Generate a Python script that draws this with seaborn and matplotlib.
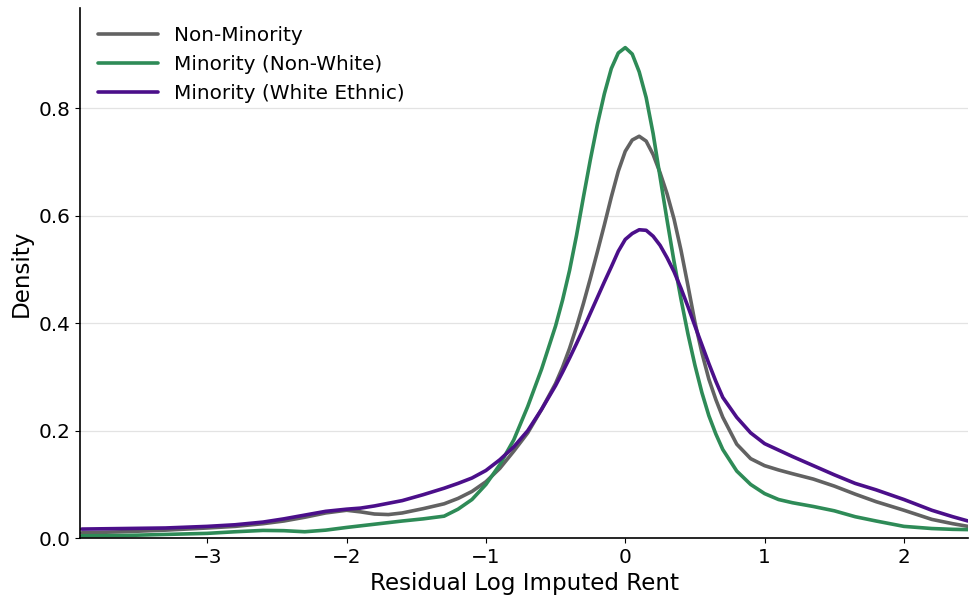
import numpy as np
import pandas as pd
import matplotlib
matplotlib.use("Agg")
import matplotlib.pyplot as plt
import seaborn as sns

# Residual grid (x) and density readings per group
x_vals = [-3.9, -3.6, -3.3, -3.0, -2.8, -2.6, -2.45, -2.3, -2.15, -2.0, -1.9,
          -1.8, -1.7, -1.6, -1.45, -1.3, -1.2, -1.1, -1.0, -0.9, -0.8, -0.7,
          -0.6, -0.5, -0.45, -0.4, -0.35, -0.3, -0.25, -0.2, -0.15, -0.1,
          -0.05, 0.0, 0.05, 0.1, 0.15, 0.2, 0.25, 0.3, 0.35, 0.4, 0.45, 0.5,
          0.55, 0.6, 0.65, 0.7, 0.8, 0.9, 1.0, 1.1, 1.2, 1.35, 1.5, 1.65, 1.8,
          2.0, 2.2, 2.35, 2.46]

non_minority = [0.010, 0.012, 0.015, 0.019, 0.022, 0.027, 0.032, 0.039, 0.047,
                0.052, 0.049, 0.045, 0.044, 0.047, 0.055, 0.064, 0.074, 0.087,
                0.105, 0.130, 0.162, 0.196, 0.240, 0.288, 0.318, 0.353, 0.393,
                0.437, 0.484, 0.533, 0.583, 0.635, 0.683, 0.720, 0.741, 0.748,
                0.739, 0.714, 0.680, 0.641, 0.594, 0.536, 0.470, 0.402, 0.345,
                0.296, 0.258, 0.225, 0.175, 0.148, 0.135, 0.127, 0.120, 0.110,
                0.097, 0.082, 0.068, 0.052, 0.035, 0.027, 0.022]

minority_non_white = [0.0045, 0.005, 0.007, 0.009, 0.012, 0.0145, 0.014, 0.012,
                      0.015, 0.020, 0.023, 0.026, 0.029, 0.032, 0.036, 0.041,
                      0.054, 0.072, 0.100, 0.137, 0.183, 0.245, 0.315, 0.395,
                      0.443, 0.498, 0.563, 0.635, 0.705, 0.770, 0.827, 0.874,
                      0.903, 0.913, 0.901, 0.868, 0.820, 0.753, 0.672, 0.592,
                      0.515, 0.445, 0.380, 0.322, 0.271, 0.228, 0.194, 0.165,
                      0.125, 0.100, 0.083, 0.072, 0.066, 0.059, 0.051, 0.040,
                      0.032, 0.022, 0.018, 0.0165, 0.016]

minority_white_ethnic = [0.017, 0.018, 0.019, 0.022, 0.025, 0.030, 0.036,
                         0.043, 0.050, 0.054, 0.056, 0.060, 0.065, 0.070,
                         0.081, 0.093, 0.102, 0.112, 0.126, 0.146, 0.170,
                         0.200, 0.240, 0.284, 0.309, 0.335, 0.362, 0.390,
                         0.419, 0.448, 0.477, 0.505, 0.534, 0.556, 0.567,
                         0.574, 0.573, 0.562, 0.545, 0.522, 0.496, 0.465,
                         0.431, 0.395, 0.360, 0.325, 0.292, 0.262, 0.225,
                         0.196, 0.176, 0.164, 0.152, 0.135, 0.118, 0.102,
                         0.090, 0.072, 0.052, 0.040, 0.032]

groups = ["Non-Minority", "Minority (Non-White)", "Minority (White Ethnic)"]
series = [non_minority, minority_non_white, minority_white_ethnic]
colors = ["#626262", "#2e8b57", "#4b0f8a"]

df = pd.concat([
    pd.DataFrame({"x": x_vals, "density": s, "group": g})
    for g, s in zip(groups, series)
], ignore_index=True)

sns.set_style("ticks")
plt.rcParams["font.family"] = ["DejaVu Sans"]
plt.rcParams.update({
    "text.color": "black",
    "axes.labelcolor": "black",
    "xtick.color": "black",
    "ytick.color": "black",
    "axes.edgecolor": "black",
})

fig, ax = plt.subplots(figsize=(9.69, 5.98), dpi=100)
fig.subplots_adjust(left=0.083, right=0.999, bottom=0.1, top=0.986)

sns.lineplot(data=df, x="x", y="density", hue="group", hue_order=groups,
             palette=colors, linewidth=2.6, ax=ax, sort=True)

ax.set_xlim(-3.91, 2.46)
ax.set_ylim(0, 0.986)
ax.set_yticks([0.0, 0.2, 0.4, 0.6, 0.8])
ax.set_xticks([-3, -2, -1, 0, 1, 2])
ax.set_xticklabels(["\u22123", "\u22122", "\u22121", "0", "1", "2"])
ax.yaxis.grid(True, color="#e3e3e3", linewidth=0.9)
ax.set_axisbelow(True)
ax.tick_params(labelsize=14.4, colors="black")
ax.set_xlabel("Residual Log Imputed Rent", fontsize=16.6)
ax.set_ylabel("Density", fontsize=16.6)
sns.despine(ax=ax)
for sp in ["left", "bottom"]:
    ax.spines[sp].set_linewidth(1.2)
    ax.spines[sp].set_color("black")

leg = ax.legend(loc="upper left", frameon=False, fontsize=14.4,
                handlelength=3.0)
for line in leg.get_lines():
    line.set_linewidth(2.6)

fig.savefig("out.png", dpi=100)
